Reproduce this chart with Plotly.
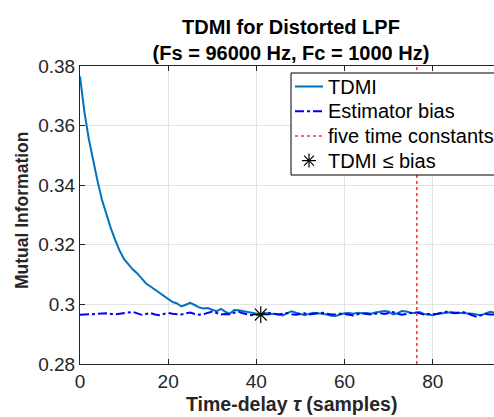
import math
import plotly.graph_objects as go

lags = list(range(97))
tdmi = [0.3765, 0.3645, 0.3555, 0.3478, 0.3412, 0.3350, 0.3302, 0.3255, 0.3216, 0.3180,
        0.3152, 0.3133, 0.3117, 0.3104, 0.3085, 0.3070, 0.3060, 0.3050, 0.3039, 0.3028,
        0.3017, 0.3008, 0.3003, 0.2993, 0.2999, 0.3005, 0.2998, 0.2990, 0.2986, 0.2988,
        0.2982, 0.2977, 0.2985, 0.2975, 0.2969, 0.2981, 0.2980, 0.2977, 0.2975, 0.2973,
        0.2970, 0.2966, 0.2972, 0.2967, 0.2969, 0.2965, 0.2963, 0.2971, 0.2977, 0.2972,
        0.2968, 0.2964, 0.2969, 0.2972, 0.2970, 0.2969, 0.2966, 0.2962, 0.2961, 0.2966,
        0.2970, 0.2971, 0.2969, 0.2972, 0.2970, 0.2971, 0.2969, 0.2973, 0.2975, 0.2978,
        0.2976, 0.2966, 0.2970, 0.2978, 0.2976, 0.2972, 0.2971, 0.2974, 0.2968, 0.2965,
        0.2964, 0.2968, 0.2970, 0.2972, 0.2974, 0.2973, 0.2972, 0.2971, 0.2971, 0.2969,
        0.2966, 0.2964, 0.2970, 0.2975, 0.2973, 0.2972, 0.2970]
bias = [0.2965, 0.2966, 0.2967, 0.2968, 0.2967, 0.2969, 0.2970, 0.2968, 0.2967, 0.2969,
        0.2971, 0.2973, 0.2975, 0.2970, 0.2965, 0.2968, 0.2971, 0.2966, 0.2964, 0.2968,
        0.2971, 0.2969, 0.2967, 0.2966, 0.2970, 0.2973, 0.2968, 0.2965, 0.2967, 0.2972,
        0.2976, 0.2971, 0.2966, 0.2968, 0.2966, 0.2972, 0.2975, 0.2970, 0.2966, 0.2964,
        0.2965, 0.2966, 0.2969, 0.2971, 0.2968, 0.2966, 0.2969, 0.2971, 0.2967, 0.2965,
        0.2968, 0.2970, 0.2966, 0.2968, 0.2970, 0.2972, 0.2969, 0.2966, 0.2967, 0.2969,
        0.2968, 0.2966, 0.2963, 0.2967, 0.2970, 0.2968, 0.2966, 0.2969, 0.2971, 0.2968,
        0.2970, 0.2974, 0.2969, 0.2965, 0.2968, 0.2972, 0.2974, 0.2970, 0.2966, 0.2968,
        0.2967, 0.2969, 0.2971, 0.2975, 0.2973, 0.2970, 0.2972, 0.2974, 0.2969, 0.2964,
        0.2958, 0.2964, 0.2968, 0.2966, 0.2967, 0.2968, 0.2967]
star_lag = 41
Fs = 96000
Fc = 1000
five_tc = 5 * Fs / (2 * math.pi * Fc)
y_range = [0.28, 0.38]
x_range = [0, 93.9]
x_ticks = [0, 20, 40, 60, 80]
y_ticks = [0.28, 0.3, 0.32, 0.34, 0.36, 0.38]
y_ticklabels = ["0.28", "0.3", "0.32", "0.34", "0.36", "0.38"]
legend_labels = ["TDMI", "Estimator bias", "five time constants", "TDMI \u2264 bias"]

FONT = "Liberation Sans, Arial, sans-serif"
TXT = "#262626"
C_TDMI = "#0072BD"
C_BIAS = "#0000FF"
C_TC = "#FF3030"

fig = go.Figure()
fig.add_trace(go.Scatter(x=lags, y=tdmi, mode="lines", name=legend_labels[0],
                         line=dict(color=C_TDMI, width=2), showlegend=False))
fig.add_trace(go.Scatter(x=lags, y=bias, mode="lines", name=legend_labels[1],
                         line=dict(color=C_BIAS, width=2, dash="dashdot"), showlegend=False))
fig.add_trace(go.Scatter(x=[five_tc, five_tc], y=y_range, mode="lines",
                         name=legend_labels[2], showlegend=False,
                         line=dict(color=C_TC, width=1.5, dash="dot")))
fig.add_trace(go.Scatter(x=[star_lag], y=[tdmi[star_lag]], mode="markers",
                         name=legend_labels[3], showlegend=False,
                         marker=dict(symbol="asterisk-open", size=14, color="#000000",
                                     line=dict(color="#000000", width=1.2))))

W, H = 494, 417
L, R, T, B = 80, 0, 66, 53
pw = W - L - R
ph = H - T - B


def px(x):
    return (x - L) / pw


def py(y):
    return (H - B - y) / ph


# manual legend (box clipped by the window edge like the reference)
shapes = [dict(type="rect", xref="paper", yref="paper", layer="above",
               x0=px(291), x1=px(540), y0=py(175), y1=py(73),
               line=dict(color="#000000", width=1), fillcolor="white")]
rows = [86.5, 111.2, 135.9, 160.6]
sx0, sx1 = 295, 323
shapes.append(dict(type="line", xref="paper", yref="paper", layer="above",
                   x0=px(sx0), x1=px(sx1), y0=py(rows[0]), y1=py(rows[0]),
                   line=dict(color=C_TDMI, width=2)))
shapes.append(dict(type="line", xref="paper", yref="paper", layer="above",
                   x0=px(sx0), x1=px(sx1), y0=py(rows[1]), y1=py(rows[1]),
                   line=dict(color=C_BIAS, width=2, dash="dashdot")))
shapes.append(dict(type="line", xref="paper", yref="paper", layer="above",
                   x0=px(sx0), x1=px(sx1), y0=py(rows[2]), y1=py(rows[2]),
                   line=dict(color=C_TC, width=1.5, dash="dot")))
cx, cy, r = 309, rows[3], 7
for ang in (0, 45, 90, 135):
    a = math.radians(ang)
    dx, dy = r * math.cos(a), r * math.sin(a)
    shapes.append(dict(type="line", xref="paper", yref="paper", layer="above",
                       x0=px(cx - dx), x1=px(cx + dx), y0=py(cy - dy), y1=py(cy + dy),
                       line=dict(color="#000000", width=1.2)))

annotations = [
    dict(text="<b>Time-delay <i>\u03c4</i> (samples)</b>", xref="paper", yref="paper",
         x=px(291), y=py(404), xanchor="center", yanchor="middle",
         showarrow=False, font=dict(family=FONT, size=19.5, color=TXT)),
    dict(text="<b>Mutual Information</b>", xref="paper", yref="paper",
         x=px(22), y=py(210), xanchor="center", yanchor="middle",
         textangle=-90, showarrow=False, font=dict(family=FONT, size=17.5, color=TXT)),
]
for lab, ry in zip(legend_labels, rows):
    annotations.append(dict(text=lab, xref="paper", yref="paper", x=px(326), y=py(ry),
                            xanchor="left", yanchor="middle", showarrow=False,
                            font=dict(family=FONT, size=20, color="#000000")))

fig.update_layout(
    width=W, height=H,
    margin=dict(l=L, r=R, t=T, b=B, autoexpand=False),
    paper_bgcolor="white", plot_bgcolor="white",
    font=dict(family=FONT, size=19, color=TXT),
    title=dict(text="<b>TDMI for Distorted LPF<br>(Fs = 96000 Hz, Fc = 1000 Hz)</b>",
               x=291 / W, xref="container", xanchor="center",
               y=1 - 34 / H, yref="container", yanchor="middle",
               font=dict(family=FONT, size=20, color="#000000")),
    showlegend=False,
    xaxis=dict(range=x_range, tickvals=x_ticks, ticks="inside", ticklen=5,
               tickcolor=TXT, showline=True, linecolor=TXT, linewidth=1,
               mirror="ticks", showgrid=True, gridcolor="#e3e3e3", gridwidth=1,
               zeroline=False, tickfont=dict(size=19, color=TXT)),
    yaxis=dict(range=y_range, tickvals=y_ticks, ticktext=y_ticklabels,
               ticks="inside", ticklen=5, tickcolor=TXT, showline=True,
               linecolor=TXT, linewidth=1, mirror=False, showgrid=True,
               gridcolor="#e3e3e3", gridwidth=1, zeroline=False,
               tickfont=dict(size=19, color=TXT)),
    shapes=shapes,
    annotations=annotations,
)

fig.write_html("out.html")
